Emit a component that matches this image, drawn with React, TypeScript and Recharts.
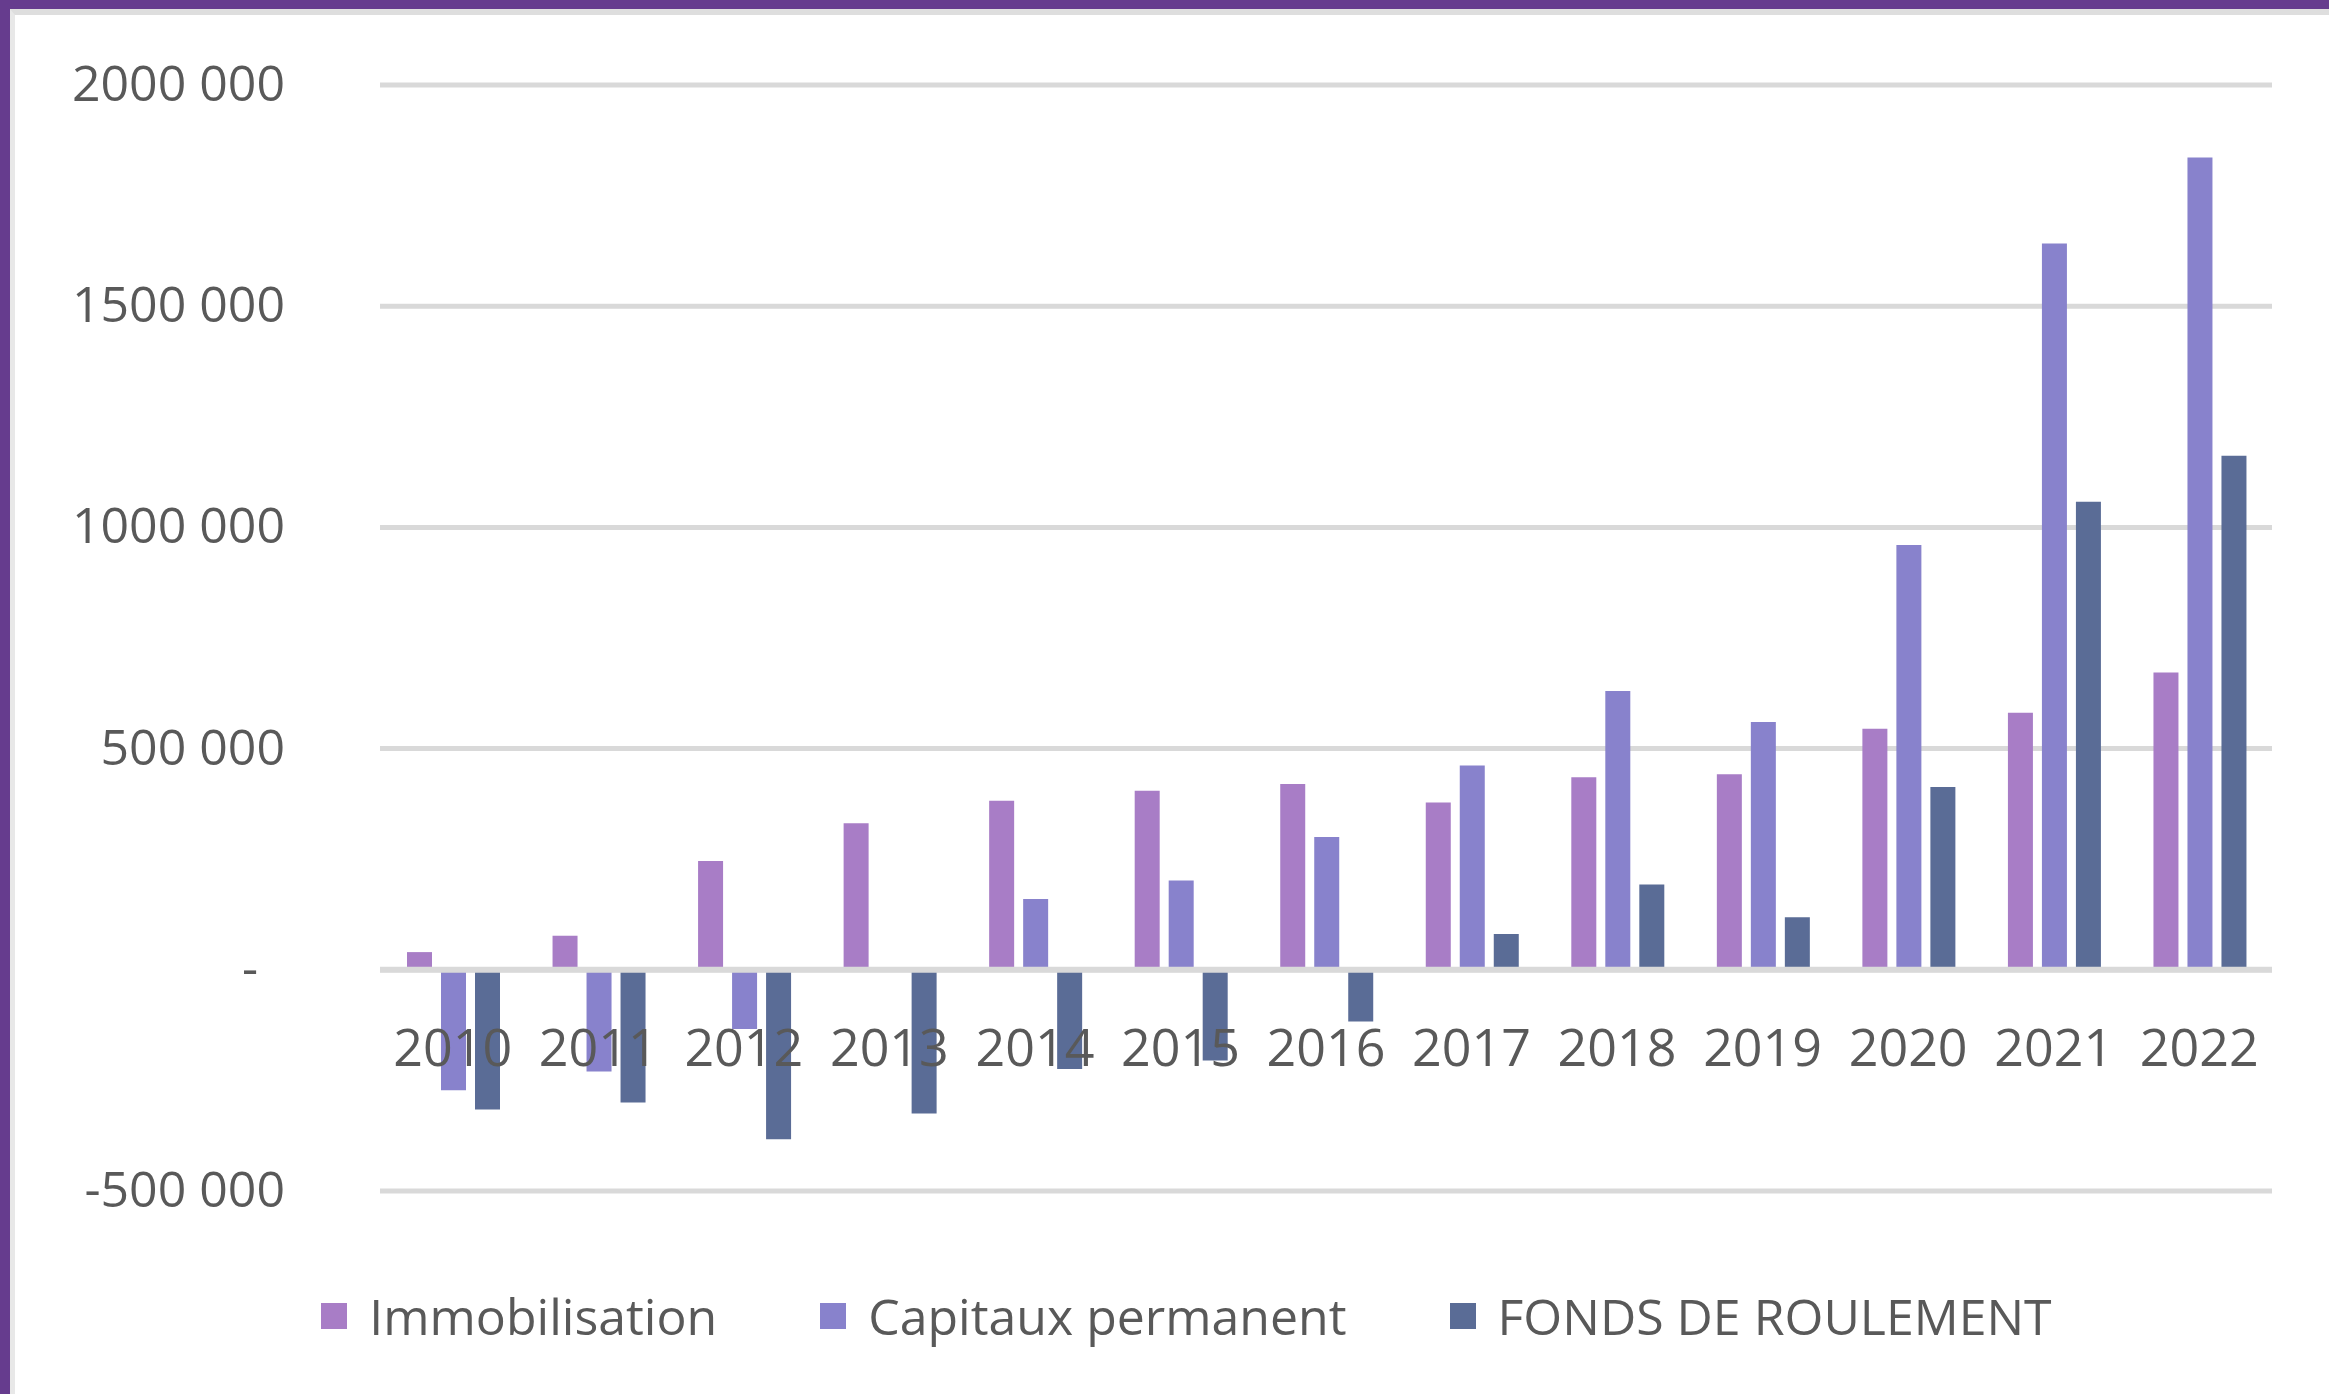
import React from "react";
import {
  BarChart,
  Bar,
  XAxis,
  YAxis,
  CartesianGrid,
  ReferenceLine,
  Legend,
} from "recharts";

// ─── Data ──────────────────────────────────────────────────────────────────────
const YEARS = ["2010", "2011", "2012", "2013", "2014", "2015", "2016", "2017", "2018", "2019", "2020", "2021", "2022"];

const IMMOBILISATION = [40000, 77000, 246000, 331000, 382000, 405000, 420000, 378000, 435000, 442000, 545000, 581000, 672000];
const CAPITAUX = [-272000, -230000, -134000, 0, 160000, 202000, 300000, 462000, 630000, 560000, 960000, 1642000, 1836000];
const FONDS = [-316000, -300000, -383000, -325000, -224000, -205000, -117000, 81000, 193000, 119000, 413000, 1058000, 1162000];

const SERIES_NAMES = ["Immobilisation", "Capitaux permanent", "FONDS DE ROULEMENT"];
const SERIES_COLORS = ["#a87dc6", "#8882cc", "#5a6c96"];

const Y_TICKS = [-500000, 0, 500000, 1000000, 1500000, 2000000];
const Y_TICK_LABELS = ["-500 000", "-", "500 000", "1000 000", "1500 000", "2000 000"];

const data = YEARS.map((year, i) => ({
  year,
  immo: IMMOBILISATION[i],
  cap: CAPITAUX[i],
  fonds: FONDS[i],
}));

// ─── Layout ────────────────────────────────────────────────────────────────────
const W = 2329;
const H = 1394;
const MARGIN = { top: 85, right: 57, bottom: 202, left: 0 };
const X_AXIS_H = 1;
const PLOT_H = H - MARGIN.top - MARGIN.bottom - X_AXIS_H;
const Y_MIN = Y_TICKS[0];
const Y_MAX = Y_TICKS[Y_TICKS.length - 1];
const ZERO_Y = MARGIN.top + (PLOT_H * Y_MAX) / (Y_MAX - Y_MIN);

const FONT = "'Open Sans', 'DejaVu Sans', sans-serif";
const TEXT_COLOR = "#595959";

const XTick = ({ x, payload }: any) => (
  <text
    x={x}
    y={ZERO_Y + 76}
    textAnchor="middle"
    dominantBaseline="central"
    fontFamily={FONT}
    fontSize={52}
    fill={TEXT_COLOR}
  >
    {payload.value}
  </text>
);

const YTick = ({ x, y, payload }: any) => {
  const idx = Y_TICKS.indexOf(payload.value);
  const label = Y_TICK_LABELS[idx] ?? String(payload.value);
  const isZero = payload.value === 0;
  return (
    <text
      x={x - (isZero ? 120 : 93)}
      y={y - 3}
      textAnchor="end"
      dominantBaseline="central"
      fontFamily={FONT}
      fontSize={50}
      fill={TEXT_COLOR}
    >
      {label}
    </text>
  );
};

// legend keeps the series order (Recharts sorts its payload by name)
const LegendContent = () => (
  <div
    style={{
      display: "flex",
      justifyContent: "center",
      alignItems: "center",
      gap: 103,
      fontFamily: FONT,
      fontSize: 50,
      lineHeight: "60px",
      color: TEXT_COLOR,
    }}
  >
    {SERIES_NAMES.map((name, i) => (
      <div key={name} style={{ display: "flex", alignItems: "center" }}>
        <span style={{ width: 26, height: 26, background: SERIES_COLORS[i], marginRight: 22, display: "inline-block" }} />
        <span>{name}</span>
      </div>
    ))}
  </div>
);

export default function App() {
  return (
    <div style={{ position: "absolute", left: 0, top: 0, width: W, height: H, background: "#fff", overflow: "hidden" }}>
      {/* frame */}
      <div
        style={{
          position: "absolute",
          left: 0,
          top: 0,
          width: W,
          height: H,
          boxSizing: "border-box",
          borderTop: "9px solid #663c8e",
          borderLeft: "10px solid #663c8e",
        }}
      />
      <div
        style={{
          position: "absolute",
          left: 10,
          top: 9,
          width: W - 10,
          height: H - 9,
          boxSizing: "border-box",
          borderTop: "6px solid #dedede",
          borderLeft: "5px solid #e8e8e8",
        }}
      />
      <div style={{ position: "absolute", left: 0, top: 0 }}>
        <BarChart width={W} height={H} data={data} margin={MARGIN} barCategoryGap={27} barGap={9}>
          <CartesianGrid vertical={false} stroke="#d9d9d9" strokeWidth={5} />
          <XAxis
            dataKey="year"
            height={X_AXIS_H}
            axisLine={false}
            tickLine={false}
            tick={<XTick />}
            interval={0}
          />
          <YAxis
            width={380}
            domain={[Y_MIN, Y_MAX]}
            ticks={Y_TICKS}
            axisLine={false}
            tickLine={false}
            tickSize={0}
            tick={<YTick />}
            interval={0}
          />
          <ReferenceLine y={0} stroke="#d9d9d9" strokeWidth={6} />
          <Bar dataKey="immo" name={SERIES_NAMES[0]} fill={SERIES_COLORS[0]} isAnimationActive={false} />
          <Bar dataKey="cap" name={SERIES_NAMES[1]} fill={SERIES_COLORS[1]} isAnimationActive={false} />
          <Bar dataKey="fonds" name={SERIES_NAMES[2]} fill={SERIES_COLORS[2]} isAnimationActive={false} />
          <Legend
            layout="horizontal"
            verticalAlign="middle"
            align="center"
            content={<LegendContent />}
            wrapperStyle={{ position: "absolute", left: 44, top: 1286, width: 2285 }}
          />
        </BarChart>
      </div>
    </div>
  );
}
